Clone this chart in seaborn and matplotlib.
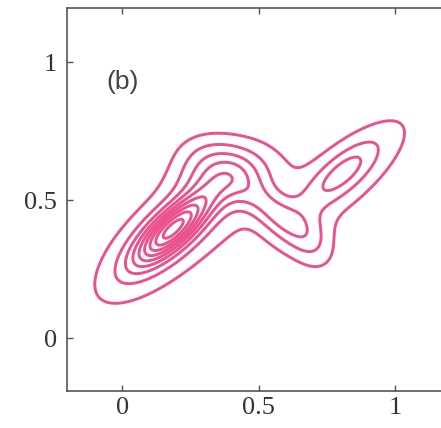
import numpy as np
import matplotlib
matplotlib.use("Agg")
import matplotlib.pyplot as plt
import seaborn as sns

# gaussian bumps: centre, spread along / across, tilt (deg), height
comp_mx = [0.185, 0.17, 0.38, 0.30, 0.55, 0.69, 0.805, 0.82, 0.45]
comp_my = [0.395, 0.38, 0.59, 0.68, 0.46, 0.35, 0.60, 0.58, 0.50]
comp_major = [0.12, 0.25, 0.11, 0.09, 0.10, 0.09, 0.11, 0.26, 0.35]
comp_minor = [0.042, 0.10, 0.07, 0.06, 0.045, 0.06, 0.042, 0.085, 0.12]
comp_angle = [42, 43, 5, 0, -40, -60, 40, 42, 30]
comp_height = [7.0, 2.2, 2.8, 0.9, 2.2, 1.5, 1.9, 1.5, 0.5]

contour_levels = [1, 2, 3, 4, 5, 6, 7, 8, 9]
x_ticks = [0, 0.5, 1]
y_ticks = [0, 0.5, 1]
tick_labels = ["0", "0.5", "1"]
panel_label = "(b)"
line_color = "#e9518f"

sns.set_style("ticks")

# density on a grid
gx = np.linspace(-0.3, 1.3, 400)
gy = np.linspace(-0.3, 1.3, 400)
X, Y = np.meshgrid(gx, gy)
Z = np.zeros_like(X)
for mx, my, s1, s2, ang, h in zip(comp_mx, comp_my, comp_major, comp_minor, comp_angle, comp_height):
    t = np.deg2rad(ang)
    dx, dy = X - mx, Y - my
    u = dx * np.cos(t) + dy * np.sin(t)
    v = -dx * np.sin(t) + dy * np.cos(t)
    Z += h * np.exp(-0.5 * (u**2 / s1**2 + v**2 / s2**2))

fig = plt.figure(figsize=(4.41, 4.28), dpi=100)
ax = fig.add_axes([0.152, 0.0864, 0.862, 0.895])
ax.contour(X, Y, Z, levels=contour_levels, colors=line_color, linewidths=2.1)

ax.set_xlim(-0.203, 1.19)
ax.set_ylim(-0.192, 1.196)
ax.set_xticks(x_ticks)
ax.set_yticks(y_ticks)
ax.set_xticklabels(tick_labels)
ax.set_yticklabels(tick_labels)
ax.tick_params(direction="in", length=4, width=1, color="#555", top=True,
               labelsize=19, labelcolor="#333")
ax.tick_params(axis="x", pad=4.5)
ax.tick_params(axis="y", pad=7)
for lab in ax.get_xticklabels() + ax.get_yticklabels():
    lab.set_family("Liberation Serif")
for s in ax.spines.values():
    s.set_color("#555")
    s.set_linewidth(1.2)

ax.text(0.0, 0.928, panel_label, fontsize=19, color="#444", family="Liberation Sans",
        ha="center", va="center")

fig.savefig("out.png", dpi=100)
